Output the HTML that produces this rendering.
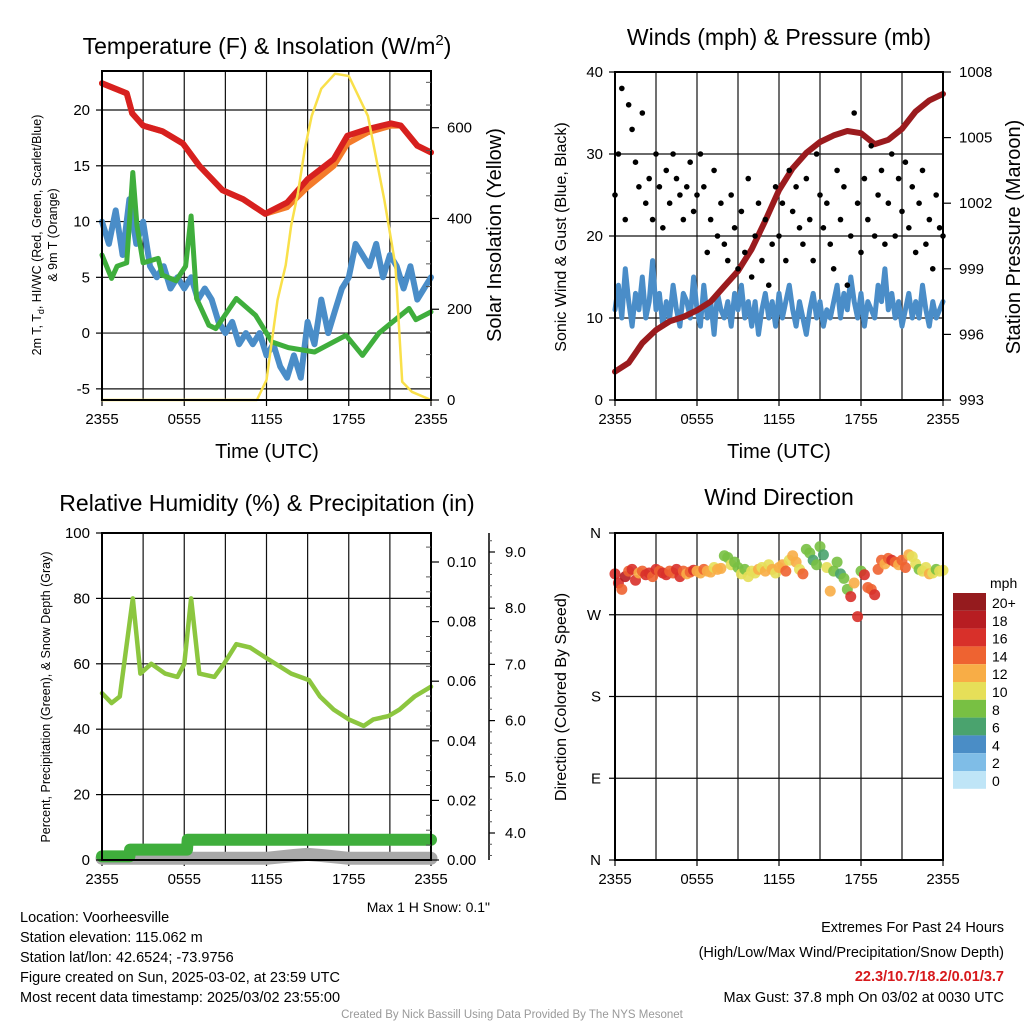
<!DOCTYPE html>
<html><head><meta charset="utf-8">
<style>
html,body{margin:0;padding:0;background:#fff;}
svg{display:block;font-family:"Liberation Sans",Arial,sans-serif;}
</style></head>
<body>
<svg id="chart" width="1024" height="1024" viewBox="0 0 1024 1024" xmlns="http://www.w3.org/2000/svg">
  <text x="267" y="54" font-size="23" text-anchor="middle">Temperature (F) &amp; Insolation (W/m<tspan dy="-9" font-size="15">2</tspan><tspan dy="9">)</tspan></text>
  <text x="779" y="45" font-size="23" text-anchor="middle">Winds (mph) &amp; Pressure (mb)</text>
  <text x="267" y="511" font-size="23" text-anchor="middle">Relative Humidity (%) &amp; Precipitation (in)</text>
  <text x="779" y="505" font-size="23" text-anchor="middle">Wind Direction</text>

  <text transform="translate(41,235) rotate(-90)" font-size="12.5" text-anchor="middle">2m T, T<tspan dy="3" font-size="9">d</tspan><tspan dy="-3">, HI/WC (Red, Green, Scarlet/Blue)</tspan></text>
  <text transform="translate(57,235) rotate(-90)" font-size="12.5" text-anchor="middle">&amp; 9m T (Orange)</text>
  <text transform="translate(501,235) rotate(-90)" font-size="20" text-anchor="middle">Solar Insolation (Yellow)</text>
  <text transform="translate(566,237) rotate(-90)" font-size="16" text-anchor="middle">Sonic Wind &amp; Gust (Blue, Black)</text>
  <text transform="translate(1020,237) rotate(-90)" font-size="20" text-anchor="middle">Station Pressure (Maroon)</text>
  <text transform="translate(50,697) rotate(-90)" font-size="12.5" text-anchor="middle">Percent, Precipitation (Green), &amp; Snow Depth (Gray)</text>
  <text transform="translate(566,697) rotate(-90)" font-size="16" text-anchor="middle">Direction (Colored By Speed)</text>
  <text x="267" y="458" font-size="20" text-anchor="middle">Time (UTC)</text>
  <text x="779" y="458" font-size="20" text-anchor="middle">Time (UTC)</text>

  <text x="490" y="912" font-size="14" text-anchor="end">Max 1 H Snow: 0.1"</text>
  <g font-size="14.5">
    <text x="20" y="922">Location: Voorheesville</text>
    <text x="20" y="942">Station elevation: 115.062 m</text>
    <text x="20" y="962">Station lat/lon: 42.6524; -73.9756</text>
    <text x="20" y="982">Figure created on Sun, 2025-03-02, at 23:59 UTC</text>
    <text x="20" y="1002">Most recent data timestamp: 2025/03/02 23:55:00</text>
  </g>
  <g font-size="14.5" text-anchor="end">
    <text x="1004" y="932">Extremes For Past 24 Hours</text>
    <text x="1004" y="957">(High/Low/Max Wind/Precipitation/Snow Depth)</text>
    <text x="1004" y="981" fill="#d7191c" font-weight="bold">22.3/10.7/18.2/0.01/3.7</text>
    <text x="1004" y="1002">Max Gust: 37.8 mph On 03/02 at 0030 UTC</text>
  </g>
  <text x="512" y="1018" font-size="11.5" fill="#999" text-anchor="middle">Created By Nick Bassill Using Data Provided By The NYS Mesonet</text>
</svg>
<script>
// ---------- data ----------
const timeTickLabels = ["2355","0555","1155","1755","2355"];
const redH = [0,1.8,2.2,3,4.4,5.9,7.1,8.8,10.3,11.9,13.5,15,16.9,17.9,19.4,21.1,21.8,23,24];
const redV = [22.4,21.5,19.7,18.6,18.1,17,15,12.8,12,10.7,11.7,13.8,15.6,17.7,18.3,18.8,18.6,16.8,16.2];
const orangeV = [22.4,21.5,19.7,18.6,18.1,17,15,12.8,12,10.7,11.3,13.1,15,17,18,18.6,18.6,16.8,16.2];
const blueV = [10,8,11,7,12,8,10,6, 5,6,4,5,4,5,3,4, 3,1,0,1,-1,0,-1,0, -2,-1,-3,-4,-2,-4,1,-1, 3,0,2,4,5,8,7,6, 8,5,7,6,4,6,3,4, 5];
const greenH = [0,0.7,1.1,1.8,2.25,2.55,3,4.1,4.4,5.4,6.1,6.5,6.9,7.8,8.3,9.8,11.2,12.4,13.6,15.5,17.8,19,20.2,22.4,22.9,24];
const greenV = [7,4.9,6,6.3,14.4,9.6,6.3,6.7,5.2,4.7,6,10.5,3.1,0.7,0.4,3.1,1.6,-0.8,-1.3,-1.7,-0.2,-2,0,2.2,1.2,1.9];
const solarH = [0,11.3,12,12.8,13.4,13.8,14.3,14.8,15.3,16,17,18,19.4,20.6,21.4,21.9,22.6,24];
const solarV = [0,0,44,220,297,385,457,554,626,686,719,714,626,440,297,40,18,0];
const tempTicks = [-5,0,5,10,15,20];
const solarTicks = [0,200,400,600];

const pressureV = [994.3,994.7,995.6,996.2,996.6,996.8,997.1,997.5,998.2,998.9,999.9,1001.2,1002.6,1003.6,1004.3,1004.8,1005.1,1005.3,1005.2,1004.7,1004.9,1005.4,1006.2,1006.7,1007.0];
const gustV = [25,30,38,22,36,33,29,26, 35,24,27,22,30,26,21,28, 24,30,27,25,22,26,29,23, 25,30,26,18,22,28,20,24,
  19,17,25,21,16,23,18,27, 15,20,24,17,22,14,19,26, 20,24,17,28,23,26,21,19, 27,22,17,30,25,21,24,19,
  16,28,22,26,14,20,35,24, 18,27,22,31,20,25,28,19, 24,30,20,27,23,29,21,26, 18,24,28,19,22,16,25,21,20];
const windV = [11,14,10,16,12,9,13,11, 15,10,12,17,11,13,9,12, 10,14,11,9,13,12,10,15, 11,9,14,10,12,8,13,11,
  10,12,9,13,11,14,10,12, 9,12,8,11,13,10,12,9, 13,10,12,14,11,9,12,10, 8,11,13,10,12,9,11,10,
  12,14,10,13,11,15,12,10, 13,9,12,11,10,14,12,16, 11,13,10,12,9,11,13,10, 12,10,14,11,9,12,10,11,12];
const windTicks = [0,10,20,30,40];
const pressureTicks = [993,996,999,1002,1005,1008];

const rhH = [0,0.7,1.3,2.25,2.8,3.6,4.6,5.5,6,6.5,7.1,8.2,8.9,9.8,10.8,11.9,13.8,15.1,15.9,16.9,18,19.1,19.8,20.9,21.7,22.8,24];
const rhV = [51,48,50,80,57,60,57,56,60,80,57,56,60,66,65,62,57,55,50,46,43,41,43,44,46,50,53];
const precipH = [0,2,2.05,6.2,6.25,24];
const precipV = [0.0012,0.0012,0.0035,0.0035,0.0068,0.0068];
const snowH = [0,12,14,15,16,18,24];
const snowV = [3.55,3.55,3.6,3.62,3.6,3.55,3.55];
const rhTicks = [0,20,40,60,80,100];
const precipTicks = ["0.00","0.02","0.04","0.06","0.08","0.10"];
const snowTicks = ["4.0","5.0","6.0","7.0","8.0","9.0"];

const dirV = [315,305,298,312,318,320,308,316, 318,314,316,312,320,318,316,314, 318,316,320,312,318,315,317,319, 318,316,320,318,317,322,320,321,
  335,333,325,328,322,315,320,312, 318,316,320,322,318,325,320,316, 322,325,318,330,335,328,320,315, 342,338,330,325,345,336,322,296,
  318,328,315,310,298,290,305,268, 318,314,300,298,292,320,330,326, 332,330,328,325,330,322,336,334, 326,320,318,322,315,316,320,318,319];
const dirSpeed = [16,17,15,18,14,16,17,13, 15,16,17,14,16,15,17,16, 15,14,16,17,15,13,14,16, 13,12,14,13,12,11,13,12,
  9,8,10,9,8,10,9,11, 11,10,12,11,13,10,12,11, 12,13,14,11,13,12,10,15, 8,9,7,8,9,7,10,13,
  8,9,7,9,8,16,13,17, 8,17,15,14,16,15,14,13, 15,16,14,13,15,14,12,11, 10,9,11,10,12,10,9,11,10];
const dirTicks = ["N","E","S","W","N"];
const speedBins = ["0","2","4","6","8","10","12","14","16","18","20+"];
const speedColors = ["#bfe5f7","#7fbde7","#4a8dc6","#4aa36e","#78c043","#e6df58","#f8ad46","#ee6331","#d8302a","#b71d22","#951b1e"];

// ---------- helpers ----------
const NS = "http://www.w3.org/2000/svg";
const svg = document.getElementById("chart");
function mk(tag, attrs, name, parent) {
  const el = document.createElementNS(NS, tag);
  for (const k in attrs) el.setAttribute(k, attrs[k]);
  
  
  (parent || svg).appendChild(el);
  return el;
}
function lin(d0, d1, r0, r1) { return v => r0 + (v - d0) / (d1 - d0) * (r1 - r0); }
function pathD(xs, ys, sx, sy) { return xs.map((h, i) => (i ? "L" : "M") + sx(h).toFixed(1) + "," + sy(ys[i]).toFixed(1)).join(""); }
function series(xs, ys, sx, sy, color, w, name, g) {
  return mk("path", {d: pathD(xs, ys, sx, sy), fill: "none", stroke: color, "stroke-width": w, "stroke-linejoin": "round", "stroke-linecap": "round"}, name, g);
}
function colorFor(s) { let i = Math.min(10, Math.max(0, Math.floor(s / 2))); return speedColors[i]; }

function frame(P, name) {
  const g = mk("g", {}, name);
  const sx = lin(0, 24, P.x0, P.x1);
  for (let h = 3; h < 24; h += 3) mk("line", {x1: sx(h), x2: sx(h), y1: P.y0, y2: P.y1, stroke: "#111", "stroke-width": 1.2}, "grid-vertical", g);
  timeTickLabels.forEach((lab, i) => {
    const x = sx(i * 6);
    mk("line", {x1: x, x2: x, y1: P.y1, y2: P.y1 + 6, stroke: "#000", "stroke-width": 1.2}, "x-tick", g);
    const t = mk("text", {x: x, y: P.y1 + 24, "font-size": 15, "text-anchor": "middle"}, "x-tick-label", g);
    t.textContent = lab;
  });
  return {g, sx};
}
function box(P, g) {
  mk("rect", {x: P.x0, y: P.y0, width: P.x1 - P.x0, height: P.y1 - P.y0, fill: "none", stroke: "#000", "stroke-width": 2}, "plot-frame", g);
}
function hgrid(P, sy, vals, g) {
  vals.forEach(v => mk("line", {x1: P.x0, x2: P.x1, y1: sy(v), y2: sy(v), stroke: "#111", "stroke-width": 1.2}, "grid-horizontal", g));
}
function leftTicks(P, sy, vals, labels, g) {
  vals.forEach((v, i) => {
    mk("line", {x1: P.x0 - 6, x2: P.x0, y1: sy(v), y2: sy(v), stroke: "#000", "stroke-width": 1.2}, "y-tick", g);
    const t = mk("text", {x: P.x0 - 12, y: sy(v) + 5, "font-size": 15, "text-anchor": "end"}, "y-tick-label", g);
    t.textContent = labels ? labels[i] : v;
  });
}
function rightTicks(ax, sy, vals, labels, g, minorVals) {
  (minorVals || []).forEach(v => mk("line", {x1: ax - 5, x2: ax, y1: sy(v), y2: sy(v), stroke: "#555", "stroke-width": 1}, "minor-tick", g));
  vals.forEach((v, i) => {
    mk("line", {x1: ax, x2: ax + 8, y1: sy(v), y2: sy(v), stroke: "#000", "stroke-width": 1.2}, "right-tick", g);
    const t = mk("text", {x: ax + 16, y: sy(v) + 5, "font-size": 15, "text-anchor": "start"}, "right-tick-label", g);
    t.textContent = labels ? labels[i] : v;
  });
}

// ---------- Panel 1: temperature ----------
(function () {
  const P = {x0: 102, x1: 431, y0: 71, y1: 400};
  const {g, sx} = frame(P, "temperature-panel");
  const sy = lin(-6, 23.5, P.y1, P.y0);
  const sr = lin(0, 725, P.y1, P.y0);
  hgrid(P, sy, tempTicks, g);
  const blueH = blueV.map((v, i) => i * 0.5);
  series(blueH, blueV, sx, sy, "#4a8dc8", 6, "dewpoint-windchill-line", g);
  series(greenH, greenV, sx, sy, "#3fae3c", 5, "dewpoint-green-line", g);
  series(redH, orangeV, sx, sy, "#f47b2a", 6, "temp-9m-orange-line", g);
  series(redH, redV, sx, sy, "#d7201f", 6, "temp-2m-red-line", g);
  series(solarH, solarV, sx, sr, "#f9e04a", 2.5, "solar-insolation-line", g);
  box(P, g);
  leftTicks(P, sy, tempTicks, null, g);
  const minors = [];
  for (let v = 50; v <= 700; v += 50) if (v % 200) minors.push(v);
  rightTicks(P.x1, sr, solarTicks, null, g, minors);
})();

// ---------- Panel 2: winds ----------
(function () {
  const P = {x0: 615, x1: 943, y0: 72, y1: 400};
  const {g, sx} = frame(P, "winds-panel");
  const sy = lin(0, 40, P.y1, P.y0);
  const sp = lin(993, 1008, P.y1, P.y0);
  hgrid(P, sy, [10, 20, 30], g);
  const hrs = windV.map((v, i) => i * 0.25);
  series(hrs, windV, sx, sy, "#4a8dc8", 5, "sonic-wind-line", g);
  const pH = pressureV.map((v, i) => i);
  series(pH, pressureV, sx, sp, "#9b1b1e", 6, "pressure-line", g);
  gustV.forEach((v, i) => {
    mk("circle", {cx: sx(i * 0.25), cy: sy(v), r: 2.8, fill: "#000"}, "gust-point", g);
  });
  box(P, g);
  leftTicks(P, sy, windTicks, null, g);
  rightTicks(P.x1, sp, pressureTicks, null, g, []);
})();

// ---------- Panel 3: humidity ----------
(function () {
  const P = {x0: 102, x1: 431, y0: 533, y1: 860};
  const {g, sx} = frame(P, "humidity-panel");
  const sy = lin(0, 100, P.y1, P.y0);
  const spc = lin(0, 0.1, P.y1, 562);
  const ssn = lin(4, 9, 833, 552);
  hgrid(P, sy, [20, 40, 60, 80], g);
  series(snowH, snowV, sx, ssn, "#a8a8a8", 13, "snow-depth-line", g);
  series(precipH, precipV, sx, spc, "#3fae3c", 12, "precipitation-line", g);
  series(rhH, rhV, sx, sy, "#8cc63f", 4.5, "relative-humidity-line", g);
  box(P, g);
  leftTicks(P, sy, rhTicks, null, g);
  const pv = precipTicks.map(Number);
  const pm = [];
  for (let i = 1; i <= 21; i++) { const v = i * 0.005; if (i % 4) pm.push(v); }
  rightTicks(P.x1, spc, pv, precipTicks, g, pm);
  const ax = 489;
  mk("line", {x1: ax, x2: ax, y1: 533, y2: 860, stroke: "#000", "stroke-width": 1.5}, "snow-axis-line", g);
  for (let v = 3.6; v <= 9.31; v += 0.2) {
    mk("line", {x1: ax, x2: ax + 3, y1: ssn(v), y2: ssn(v), stroke: "#555", "stroke-width": 1}, "snow-minor-tick", g);
  }
  snowTicks.forEach(lab => {
    const v = Number(lab);
    mk("line", {x1: ax, x2: ax + 6, y1: ssn(v), y2: ssn(v), stroke: "#000", "stroke-width": 1.2}, "snow-tick", g);
    const t = mk("text", {x: ax + 16, y: ssn(v) + 5, "font-size": 15}, "snow-tick-label", g);
    t.textContent = lab;
  });
})();

// ---------- Panel 4: wind direction ----------
(function () {
  const P = {x0: 615, x1: 943, y0: 533, y1: 860};
  const {g, sx} = frame(P, "wind-direction-panel");
  const sy = lin(0, 360, P.y1, P.y0);
  hgrid(P, sy, [90, 180, 270], g);
  dirV.forEach((d, i) => {
    mk("circle", {cx: sx(i * 0.25), cy: sy(d), r: 5.5, fill: colorFor(dirSpeed[i]), "fill-opacity": 0.9}, "direction-point", g);
  });
  box(P, g);
  dirTicks.forEach((lab, i) => {
    const v = i * 90;
    mk("line", {x1: P.x0 - 6, x2: P.x0, y1: sy(v), y2: sy(v), stroke: "#000", "stroke-width": 1.2}, "y-tick", g);
    const t = mk("text", {x: P.x0 - 14, y: sy(v) + 5, "font-size": 15, "text-anchor": "end"}, "direction-tick-label", g);
    t.textContent = lab;
  });
  const cb = mk("g", {}, "speed-colorbar");
  const u = mk("text", {x: 990, y: 588, "font-size": 14}, "colorbar-unit", cb);
  u.textContent = "mph";
  const top = 593, hgt = 17.8;
  speedBins.slice().reverse().forEach((lab, i) => {
    const col = speedColors[speedColors.length - 1 - i];
    mk("rect", {x: 953, y: top + i * hgt, width: 33, height: hgt, fill: col}, "colorbar-box", cb);
    const t = mk("text", {x: 992, y: top + i * hgt + 15, "font-size": 14}, "colorbar-label", cb);
    t.textContent = lab;
  });
})();
</script>
</body></html>
